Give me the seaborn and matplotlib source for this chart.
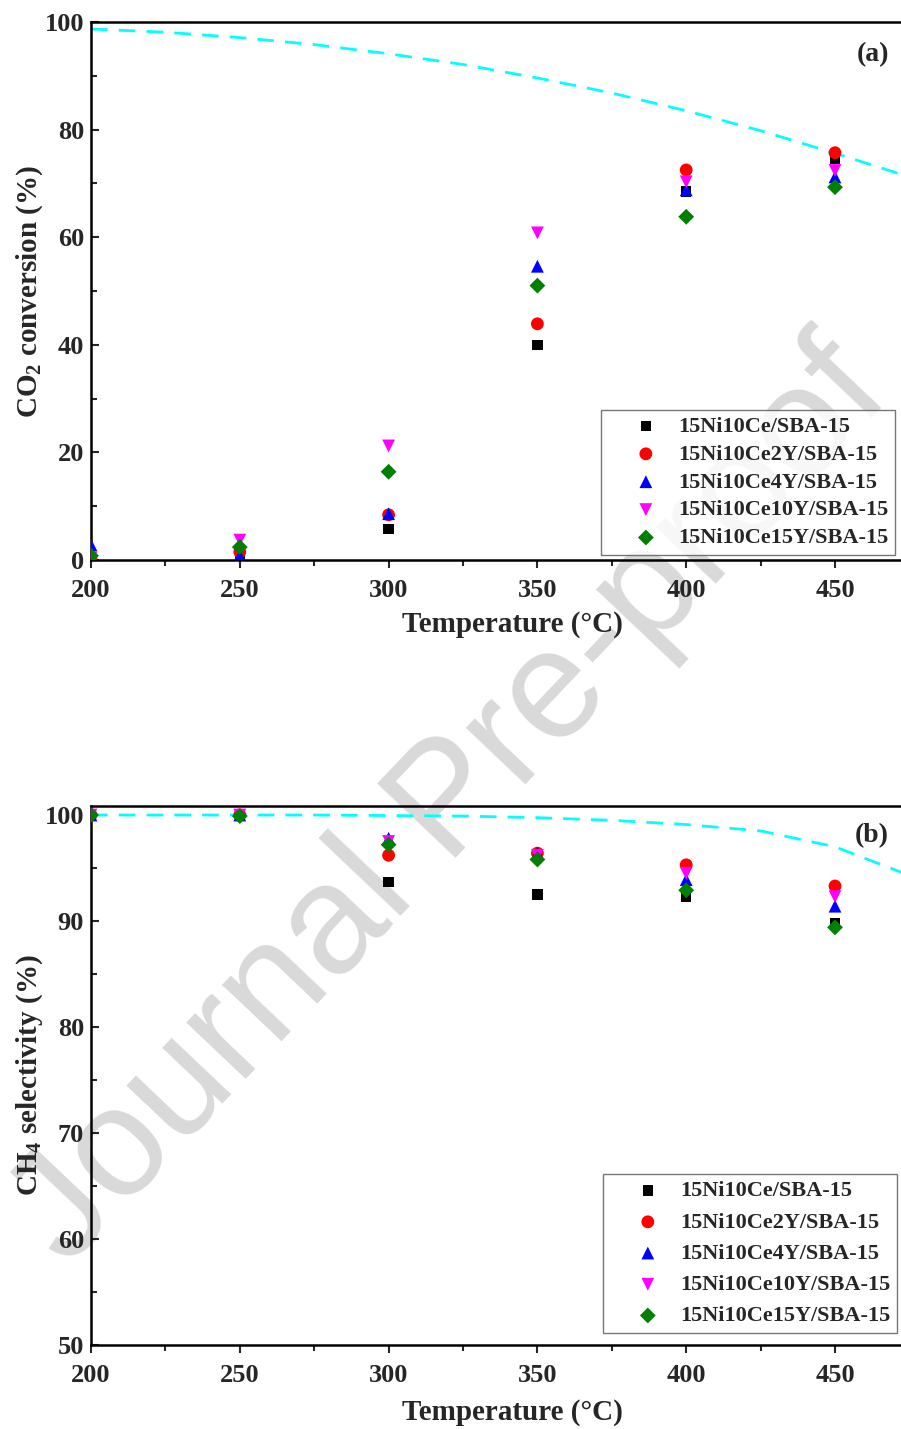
import pandas as pd
import numpy as np
import matplotlib
matplotlib.use("Agg")
import matplotlib.pyplot as plt
import seaborn as sns
from matplotlib.ticker import MultipleLocator

# temperatures and sample names
temps = [200, 250, 300, 350, 400, 450]
samples = ["15Ni10Ce/SBA-15", "15Ni10Ce2Y/SBA-15", "15Ni10Ce4Y/SBA-15",
           "15Ni10Ce10Y/SBA-15", "15Ni10Ce15Y/SBA-15"]

# CO2 conversion (%)
conv_ce = [0.3, 0.5, 5.8, 40.0, 68.5, 74.5]
conv_ce2y = [0.5, 1.5, 8.4, 43.9, 72.5, 75.7]
conv_ce4y = [2.8, 0.8, 8.6, 54.6, 68.8, 71.2]
conv_ce10y = [0.4, 3.7, 21.2, 60.8, 70.3, 72.4]
conv_ce15y = [0.8, 2.4, 16.4, 51.0, 63.8, 69.3]

# CH4 selectivity (%)
sel_ce = [100.0, 99.9, 93.7, 92.5, 92.3, 89.8]
sel_ce2y = [100.0, 100.0, 96.2, 96.4, 95.3, 93.3]
sel_ce4y = [100.0, 100.0, 97.8, 96.4, 93.9, 91.4]
sel_ce10y = [100.0, 100.0, 97.5, 96.2, 94.5, 92.3]
sel_ce15y = [100.0, 99.9, 97.2, 95.8, 92.9, 89.4]

# thermodynamic equilibrium curves (cyan dashed)
eq_T = [200, 225, 250, 275, 300, 325, 350, 375, 400, 425, 450, 475]
eq_conv = [98.7, 98.1, 97.1, 95.8, 94.1, 92.1, 89.6, 86.8, 83.5, 79.8, 75.6, 71.2]
eq_sel = [100.0, 100.0, 100.0, 100.0, 99.95, 99.9, 99.75, 99.5, 99.1, 98.5, 97.0, 94.3]

colors = ["black", "red", "blue", "magenta", "green"]
markers = ["s", "o", "^", "v", "D"]
sizes = [55, 85, 85, 85, 65]

conv_all = [conv_ce, conv_ce2y, conv_ce4y, conv_ce10y, conv_ce15y]
sel_all = [sel_ce, sel_ce2y, sel_ce4y, sel_ce10y, sel_ce15y]

rows = []
for name, cv, sl in zip(samples, conv_all, sel_all):
    for t, c, s in zip(temps, cv, sl):
        rows.append({"T": t, "sample": name, "conv": c, "sel": s})
df = pd.DataFrame(rows)

sns.set_style("white")
plt.rcParams["font.family"] = ["Liberation Serif", "DejaVu Serif"]
plt.rcParams["font.weight"] = "bold"
plt.rcParams["mathtext.fontset"] = "custom"
plt.rcParams["mathtext.rm"] = "Liberation Serif:bold"
plt.rcParams["mathtext.bf"] = "Liberation Serif:bold"

fig = plt.figure(figsize=(9.01, 14.29), dpi=100)
ax1 = fig.add_axes([91 / 901, 1 - 560 / 1429, 810 / 901, 538 / 1429])
ax2 = fig.add_axes([91 / 901, 1 - 1345 / 1429, 810 / 901, 539 / 1429])

xmax = 200 + 810 / 2.976


def draw(ax, col, eq, ylim, major, minor, ylabel, tag, tag_y,
         legend_anchor, lspace, xlabelpad):
    ax.set_facecolor("none")
    sns.lineplot(x=eq_T, y=eq, ax=ax, color="cyan", linewidth=2,
                 dashes=False, zorder=1)
    ax.lines[-1].set_dashes([6, 4])
    for name, c, m, s in zip(samples, colors, markers, sizes):
        sub = df[df["sample"] == name]
        sns.scatterplot(data=sub, x="T", y=col, ax=ax, color=c, marker=m,
                        s=s, edgecolor="none", label=name, zorder=3)
    ax.set_xlim(200, xmax)
    ax.set_ylim(*ylim)
    ax.xaxis.set_major_locator(MultipleLocator(50))
    ax.xaxis.set_minor_locator(MultipleLocator(25))
    ax.yaxis.set_major_locator(MultipleLocator(major))
    ax.yaxis.set_minor_locator(MultipleLocator(minor))
    ax.tick_params(axis="x", which="both", direction="out", bottom=True,
                   width=1.5, labelsize=19, pad=8)
    ax.tick_params(axis="x", which="major", length=6)
    ax.tick_params(axis="x", which="minor", length=4)
    ax.tick_params(axis="y", which="both", direction="in", left=True,
                   width=1.5, labelsize=19, pad=5)
    ax.tick_params(axis="y", which="major", length=6)
    ax.tick_params(axis="y", which="minor", length=4)
    for lab in ax.get_xticklabels() + ax.get_yticklabels():
        lab.set_fontweight("bold")
    for sp in ["left", "bottom", "top"]:
        ax.spines[sp].set_linewidth(1.8)
        ax.spines[sp].set_color("black")
    ax.spines["right"].set_visible(False)
    ax.set_xlabel("Temperature (°C)", fontsize=21, fontweight="bold",
                  labelpad=xlabelpad)
    ax.xaxis.label.set_x(0.52)
    ax.set_ylabel(ylabel, fontsize=21, fontweight="bold", labelpad=0)
    ax.text(0.985, tag_y, tag, transform=ax.transAxes, ha="right",
            va="center", fontsize=20, fontweight="bold")
    leg = ax.legend(loc="lower right", bbox_to_anchor=legend_anchor,
                    fontsize=16, frameon=True, fancybox=False,
                    edgecolor="#555555", handlelength=3.4,
                    handletextpad=-0.25, borderpad=0.3,
                    labelspacing=lspace, borderaxespad=0)
    leg.get_frame().set_linewidth(1.0)
    for t in leg.get_texts():
        t.set_fontweight("bold")


draw(ax1, "conv", eq_conv, (0, 100), 20, 10,
     r"CO$_{\mathbf{2}}$ conversion (%)", "(a)", 0.94,
     (0.9926, 0.0093), 0.33, 6)
draw(ax2, "sel", eq_sel, (50, 100.85), 10, 5,
     r"CH$_{\mathbf{4}}$ selectivity (%)", "(b)", 0.945,
     (0.995, 0.0223), 0.48, 8)

fig.text(0.5, 0.437, "Journal Pre-proof", rotation=46.5, ha="center",
         va="center", fontsize=112, color="#d9d9d9",
         family=["Liberation Sans", "DejaVu Sans"], fontweight="normal",
         zorder=-5)

fig.savefig("out.png", dpi=100)
